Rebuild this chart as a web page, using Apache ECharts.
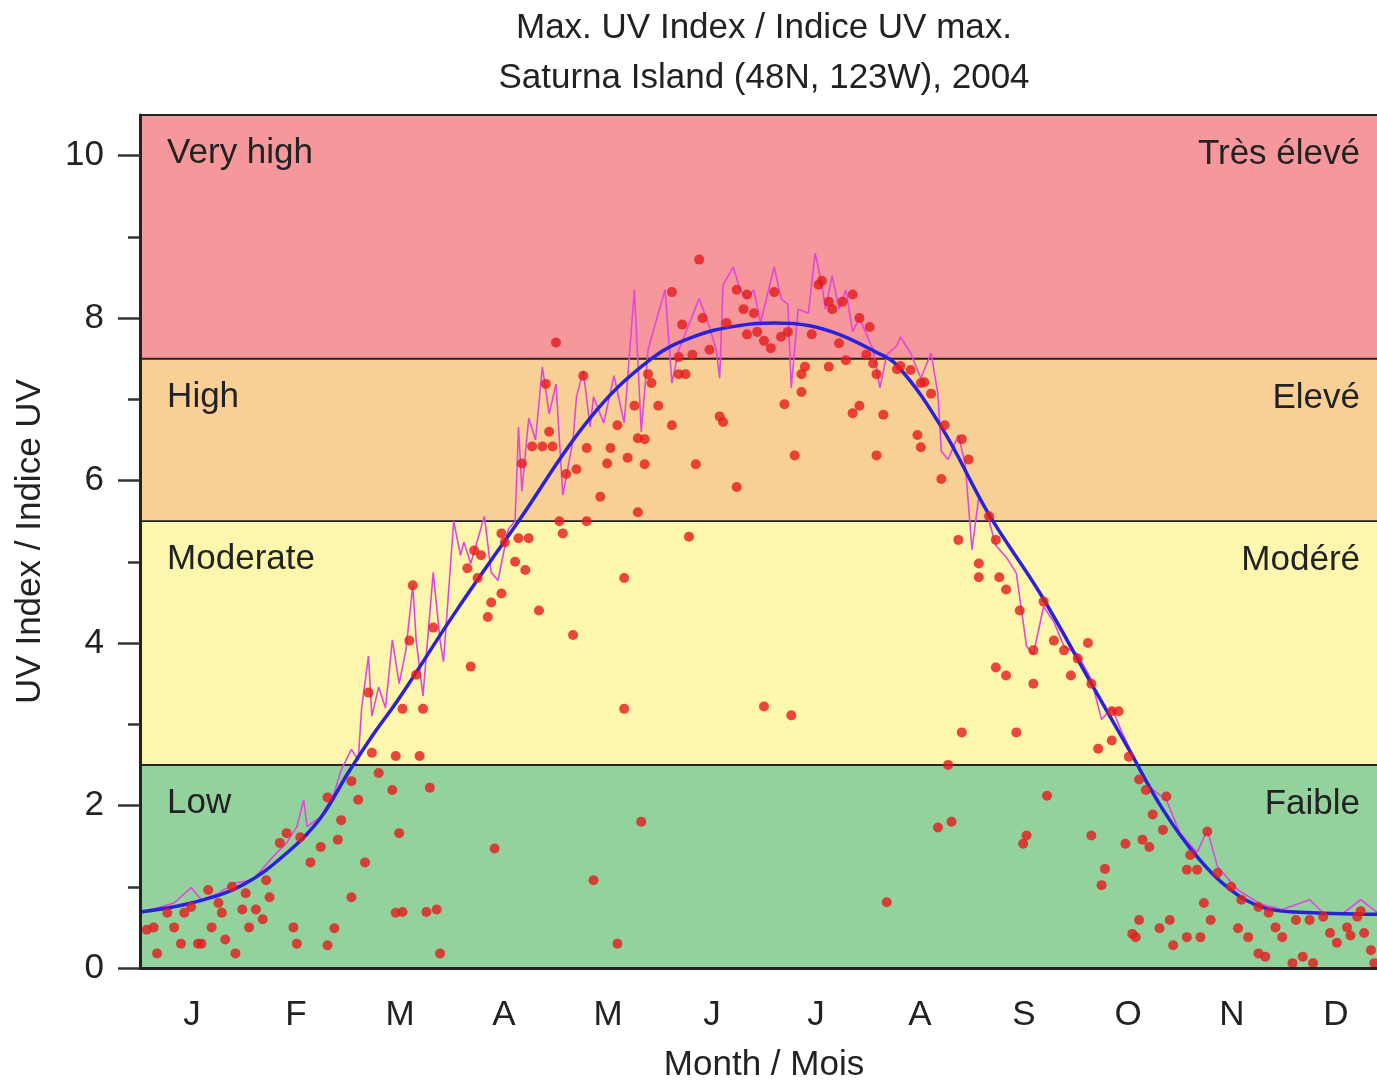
<!DOCTYPE html>
<html>
<head>
<meta charset="utf-8">
<title>Max. UV Index - Saturna Island 2004</title>
<script src="https://cdn.jsdelivr.net/npm/echarts@6/dist/echarts.min.js"></script>
<style>
  html, body { margin: 0; padding: 0; background: #fff; }
  #chart { width: 1377px; height: 1084px; }
</style>
</head>
<body>
<div id="chart"></div>
<script>
// month labels (one per month, equally spaced)
const months = ['J', 'F', 'M', 'A', 'M', 'J', 'J', 'A', 'S', 'O', 'N', 'D']

// UV categories: limits, left label, right label, colour
const bandLimits = [[0, 2.5], [2.5, 5.5], [5.5, 7.5], [7.5, 10.5]]
const bandNamesEn = ['Low', 'Moderate', 'High', 'Very high']
const bandNamesFr = ['Faible', 'Modéré', 'Elevé', 'Très élevé']
const bandColors = ['#93d29c', '#fdf6ad', '#f8d096', '#f6979b']

const yMajorTicks = [0, 2, 4, 6, 8, 10]
const yMinorTicks = [1, 3, 5, 7, 9]

// smooth climatological curve [day of year, UV]
const fitCurve = [
  [0, 0.69], [15, 0.8], [30, 1.02], [44, 1.45], [53, 1.85], [61, 2.4], [68, 2.85],
  [76, 3.32], [92, 4.35], [111, 5.5], [132, 6.77], [150, 7.5], [163, 7.78],
  [176, 7.91], [186, 7.94], [196, 7.91], [205, 7.8], [215, 7.6], [222, 7.42],
  [235, 6.66], [249, 5.58], [264, 4.61], [279, 3.5], [290, 2.69], [300, 1.95],
  [310, 1.37], [320, 0.96], [329, 0.75], [339, 0.69], [366, 0.66]
]

// clear-sky daily maximum (magenta) [day of year, UV]
const clearSky = [
  [0, 0.68], [6, 0.75], [10, 0.8], [15, 0.99], [18, 0.84], [23, 0.92], [28, 1.05],
  [33, 1.08], [39, 1.37], [43, 1.54], [46, 1.74], [48, 2.07], [49, 1.74], [53, 1.86],
  [57, 2.16], [59, 2.44], [62, 2.69], [64, 2.56], [65, 3.2], [67, 3.84], [68, 3.1],
  [70, 3.46], [72, 3.2], [74, 4.04], [76, 3.5], [78, 3.92], [80, 4.71], [81, 4.03],
  [83, 3.35], [84, 3.87], [86, 4.87], [88, 4.03], [89, 3.77], [92, 5.5], [94, 5.08],
  [95, 5.24], [97, 4.98], [101, 5.56], [103, 4.87], [105, 4.77], [108, 5.4], [110, 5.5],
  [111, 6.66], [112, 5.87], [114, 6.77], [116, 6.5], [118, 7.4], [120, 6.82], [122, 7.19],
  [124, 5.82], [127, 6.5], [128, 7.03], [130, 7.35], [132, 6.66], [133, 7.03], [136, 6.71],
  [139, 7.29], [142, 6.71], [145, 8.35], [147, 6.6], [149, 7.61], [152, 8.06], [154, 8.35],
  [156, 7.2], [158, 7.61], [164, 8.24], [167, 7.89], [169, 7.61], [170, 7.26], [171, 8.41],
  [174, 8.63], [176, 8.35], [178, 8.24], [180, 8.35], [182, 7.94], [184, 8.29], [186, 8.63],
  [188, 8.24], [190, 8.17], [191, 7.14], [193, 8.11], [196, 8.06], [198, 8.8], [200, 8.41],
  [201, 8.11], [203, 8.52], [205, 8.11], [207, 8.35], [209, 7.83], [211, 8.0], [215, 7.61],
  [217, 7.14], [219, 7.55], [222, 7.66], [223, 7.77], [226, 7.57], [229, 7.26], [232, 7.57],
  [234, 7.07], [235, 6.36], [237, 6.26], [240, 6.56], [242, 6.21], [244, 5.15], [246, 5.8],
  [248, 5.66], [251, 5.2], [254, 5.06], [257, 4.86], [260, 3.96], [262, 3.86], [265, 4.45],
  [268, 4.26], [271, 3.96], [275, 3.86], [279, 3.55], [282, 3.06], [285, 3.2], [288, 2.9],
  [292, 2.55], [296, 2.23], [301, 2.07], [305, 1.66], [310, 1.42], [313, 1.7], [316, 1.25],
  [322, 0.96], [329, 0.78], [335, 0.72], [343, 0.84], [347, 0.68], [353, 0.68], [358, 0.84],
  [363, 0.68], [366, 0.68]
]

// measured daily maximum UV index [day of year, UV]
const measured = [
  [2, 0.47], [4, 0.5], [5, 0.18], [8, 0.68], [10, 0.5], [12, 0.3], [13, 0.68], [15, 0.75],
  [17, 0.3], [18, 0.3], [20, 0.96], [21, 0.5], [23, 0.8], [24, 0.68], [25, 0.35], [27, 1.0],
  [28, 0.18], [30, 0.72], [31, 0.92], [32, 0.5], [34, 0.72], [36, 0.6], [37, 1.08], [38, 0.87],
  [41, 1.54], [43, 1.66], [45, 0.5], [46, 0.3], [47, 1.61], [50, 1.3], [53, 1.49], [55, 2.1],
  [55, 0.28], [57, 0.49], [58, 1.58], [59, 1.82], [62, 0.87], [62, 2.3], [64, 2.07], [66, 1.3],
  [67, 3.39], [68, 2.65], [70, 2.4], [74, 2.19], [75, 2.61], [75, 0.68], [76, 1.66], [77, 0.69],
  [77, 3.19], [79, 4.03], [80, 4.71], [81, 3.61], [82, 2.61], [83, 3.19], [84, 0.69], [85, 2.22],
  [86, 4.19], [87, 0.72], [88, 0.18],
  [96, 4.92], [97, 3.71], [98, 5.14], [99, 4.8], [100, 5.08], [102, 4.32], [103, 4.5], [104, 1.47],
  [106, 4.61], [106, 5.35], [107, 5.24], [110, 5.0], [111, 5.29], [112, 6.21], [113, 4.9],
  [114, 5.29], [115, 6.42], [117, 4.4], [118, 6.42], [119, 7.19], [120, 6.6], [121, 6.42],
  [122, 7.7], [123, 5.5], [124, 5.35], [125, 6.08], [127, 4.1], [128, 6.14], [130, 7.29],
  [131, 5.5], [131, 6.4], [133, 1.08], [135, 5.8], [137, 6.21], [138, 6.4], [140, 6.68],
  [140, 0.3], [142, 4.8], [142, 3.19], [143, 6.28], [145, 6.92], [146, 5.61], [146, 6.52],
  [147, 1.8], [148, 6.51], [148, 6.2], [149, 7.31], [150, 7.2], [152, 6.92], [156, 8.32],
  [156, 6.68], [158, 7.31], [158, 7.52], [159, 7.92], [160, 7.31], [161, 5.31], [162, 7.55],
  [163, 6.2], [164, 8.72], [165, 8.0], [167, 7.61], [170, 6.79], [171, 6.72], [172, 7.94],
  [175, 8.35], [175, 5.92], [177, 8.11], [178, 8.29], [178, 7.8], [180, 8.06], [181, 7.83],
  [183, 7.72], [183, 3.22], [185, 7.63], [186, 8.32], [188, 7.77], [189, 6.94], [190, 7.83],
  [191, 3.11], [192, 6.31], [194, 7.09], [194, 7.31], [195, 7.4], [197, 7.8], [199, 8.41],
  [200, 8.46], [202, 8.2], [202, 7.4], [203, 8.11], [205, 7.69], [206, 8.2], [207, 7.48],
  [209, 6.83], [209, 8.29], [211, 6.92], [211, 8.0], [213, 7.55], [214, 7.89], [215, 7.44],
  [216, 7.31], [216, 6.31], [218, 6.81], [219, 0.81], [222, 7.37], [223, 7.41], [226, 7.36],
  [228, 6.56], [229, 7.2], [229, 6.41], [230, 7.21], [232, 7.07], [234, 1.73], [235, 6.02],
  [236, 6.68], [237, 2.5], [238, 1.8], [240, 5.27], [241, 2.9], [241, 6.51], [243, 6.26],
  [246, 4.81], [246, 4.98], [249, 5.56], [251, 5.27], [251, 3.7], [252, 4.81], [254, 3.6],
  [254, 4.66], [257, 2.9], [258, 4.4], [259, 1.53], [260, 1.63], [262, 3.5], [262, 3.91],
  [265, 4.51], [266, 2.12], [268, 4.03], [271, 3.91], [273, 3.6], [275, 3.81], [278, 4.0],
  [279, 3.5], [279, 1.63], [281, 2.7], [282, 1.02], [283, 1.22], [285, 3.16], [285, 2.8],
  [287, 3.16], [289, 1.53], [290, 2.6], [291, 0.42], [292, 0.38], [293, 2.32], [293, 0.59],
  [294, 1.58], [295, 2.19], [296, 1.49], [297, 1.89], [299, 0.49], [300, 1.7], [301, 2.11],
  [302, 0.59], [303, 0.28], [307, 0.38], [307, 1.21], [308, 1.39], [310, 1.21], [311, 0.38],
  [312, 0.8], [313, 1.68], [314, 0.59], [316, 1.17], [320, 1.0], [322, 0.49], [323, 0.84],
  [325, 0.38], [328, 0.18], [328, 0.75], [330, 0.14], [331, 0.68], [333, 0.5], [335, 0.38],
  [338, 0.06], [339, 0.59], [341, 0.14], [343, 0.59], [344, 0.06], [347, 0.63], [349, 0.43],
  [351, 0.31], [354, 0.5], [355, 0.4], [357, 0.63], [358, 0.7], [359, 0.43], [361, 0.22],
  [362, 0.06]
]

const FONT = '"Liberation Sans", Arial, Helvetica, sans-serif'
const TXT = '#222'

const chart = echarts.init(document.getElementById('chart'))

const bandAreas = bandLimits.map((b, i) => [
  { yAxis: b[0], name: bandNamesEn[i], itemStyle: { color: bandColors[i] } },
  { yAxis: b[1] }
])
const bandAreasRight = bandLimits.map((b, i) => [
  { yAxis: b[0], name: bandNamesFr[i] },
  { yAxis: b[1] }
])

const option = {
  animation: false,
  backgroundColor: '#fff',
  textStyle: { fontFamily: FONT },
  title: [
    {
      text: 'Max. UV Index / Indice UV max.',
      left: 764, top: 11, padding: 0, textAlign: 'center',
      textStyle: { fontFamily: FONT, fontSize: 35, fontWeight: 'normal', color: TXT }
    },
    {
      text: 'Saturna Island (48N, 123W), 2004',
      left: 764, top: 61, padding: 0, textAlign: 'center',
      textStyle: { fontFamily: FONT, fontSize: 35, fontWeight: 'normal', color: TXT }
    }
  ],
  // plot runs a little past the right edge of the picture
  grid: { left: 140, width: 1248, top: 115, bottom: 116, outerBoundsMode: 'none', containLabel: false },
  xAxis: [
    {
      type: 'value', min: 0, max: 366, show: false
    },
    {
      type: 'category', data: months, position: 'bottom', boundaryGap: true, z: 10,
      name: 'Month / Mois', nameLocation: 'middle', nameGap: 80,
      nameTextStyle: { fontFamily: FONT, fontSize: 35, color: TXT },
      axisLine: { lineStyle: { color: '#222', width: 3 } },
      axisTick: { length: 14, lineStyle: { color: '#333', width: 2.5 } },
      axisLabel: { margin: 30, fontFamily: FONT, fontSize: 35, color: TXT, interval: 0 },
      splitLine: { show: false }
    }
  ],
  yAxis: [
    {
      type: 'value', min: 0, max: 10.5, position: 'left', z: 10,
      name: 'UV Index / Indice UV', nameLocation: 'middle', nameGap: 92,
      nameTextStyle: { fontFamily: FONT, fontSize: 35, color: TXT },
      axisLine: { show: true, lineStyle: { color: '#222', width: 3 } },
      axisTick: { length: 22, customValues: yMajorTicks, lineStyle: { color: '#333', width: 2.5 } },
      axisLabel: { margin: 36, customValues: yMajorTicks, fontFamily: FONT, fontSize: 35, color: TXT },
      splitLine: { show: false }
    },
    {
      type: 'value', min: 0, max: 10.5, position: 'left', z: 10,
      axisLine: { show: false },
      axisTick: { length: 12, customValues: yMinorTicks, lineStyle: { color: '#333', width: 2.5 } },
      axisLabel: { show: false },
      splitLine: { show: false }
    }
  ],
  series: [
    {
      name: 'bands', type: 'scatter', data: [], z: 1, silent: true,
      markArea: {
        silent: true,
        itemStyle: { borderColor: '#222', borderWidth: 1.8 },
        label: {
          show: true, position: [28, 22], align: 'left', verticalAlign: 'top',
          fontFamily: FONT, fontSize: 35, color: TXT
        },
        data: bandAreas
      }
    },
    {
      name: 'bandsFr', type: 'scatter', data: [], z: 1, silent: true,
      markArea: {
        silent: true,
        itemStyle: { color: 'rgba(0,0,0,0)', borderWidth: 0 },
        label: {
          show: true, position: ['100%', 22], offset: [-28, 0], align: 'right', verticalAlign: 'top',
          fontFamily: FONT, fontSize: 35, color: TXT
        },
        data: bandAreasRight
      }
    },
    {
      name: 'clear sky', type: 'line', data: clearSky, z: 3,
      showSymbol: false, symbol: 'none',
      lineStyle: { color: '#e048dc', width: 1.6 }
    },
    {
      name: 'fit', type: 'line', data: fitCurve, z: 4, smooth: 0.4,
      showSymbol: false, symbol: 'none',
      lineStyle: { color: '#2a22d8', width: 3.5 }
    },
    {
      name: 'measured', type: 'scatter', data: measured, z: 5,
      symbol: 'circle', symbolSize: 10,
      itemStyle: { color: '#e41b1c' }
    }
  ]
}

chart.setOption(option)
</script>
</body>
</html>
